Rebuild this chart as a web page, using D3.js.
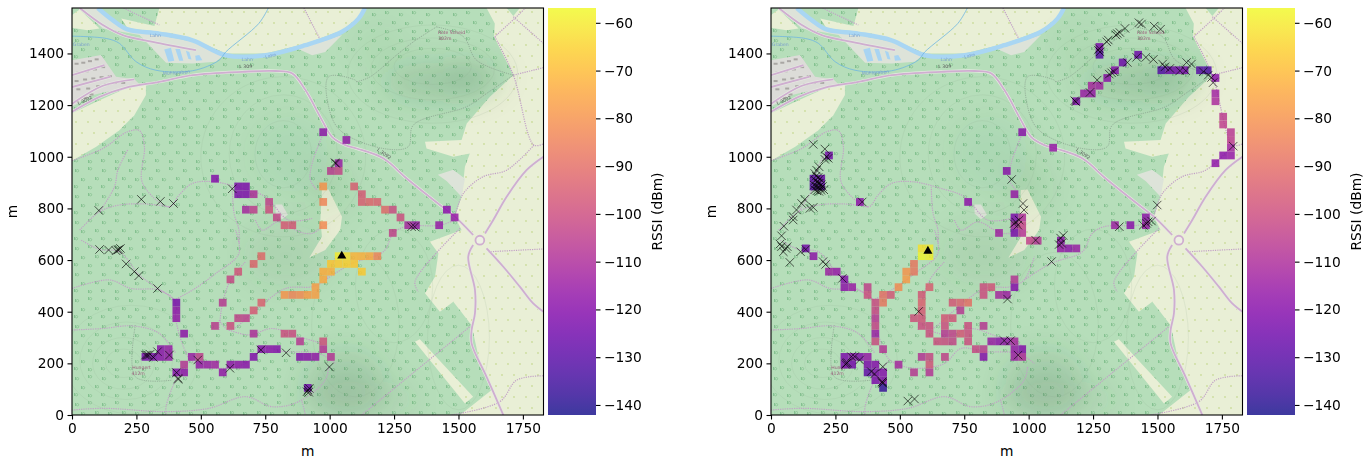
<!DOCTYPE html>
<html>
<head>
<meta charset="utf-8">
<script src="https://cdn.jsdelivr.net/npm/d3@7"></script>
<style>
  html, body { margin: 0; padding: 0; background: #fff; }
  text { font-family: "DejaVu Sans", sans-serif; }
</style>
</head>
<body>
<div id="chart"></div>
<script>
// RSSI per 30 m grid cell: [column, row, dBm]
const cellsLeft = [
  [13,14,-123],[13,13,-118],[13,12,-117],[14,10,-118],[9,7,-123],[10,7,-122],[11,7,-119],[12,7,-117],[11,8,-119],[12,8,-116],
  [13,5,-120],[14,5,-118],[14,6,-108],[15,7,-115],[16,7,-105],[16,6,-116],[17,6,-115],[18,6,-113],[19,5,-117],[20,6,-118],
  [21,6,-118],[22,6,-119],[23,7,-121],[24,8,-120],[25,8,-119],[26,8,-120],[29,7,-120],[30,7,-119],[31,7,-117],[32,8,-108],
  [32,9,-99],[33,7,-108],[29,9,-107],[27,10,-100],[28,10,-101],[23,10,-110],[30,3,-125],[18,11,-106],[20,11,-100],[21,12,-104],
  [22,12,-105],[23,13,-96],[24,14,-94],[19,14,-107],[20,17,-102],[21,18,-98],[23,19,-93],[24,20,-92],[27,15,-80],[28,15,-84],
  [29,15,-82],[30,15,-78],[31,15,-77],[31,16,-77],[32,17,-75],[32,18,-74],[33,18,-73],[33,19,-68],[34,19,-67],[35,19,-66],
  [36,19,-68],[34,20,-60],[35,20,-62],[36,20,-72],[37,20,-73],[38,20,-75],[39,20,-84],[37,18,-67],[27,24,-96],[28,24,-97],
  [26,25,-103],[25,26,-100],[25,27,-104],[22,26,-112],[23,26,-105],[21,28,-122],[22,28,-122],[23,28,-110],[21,29,-122],[22,29,-122],
  [18,30,-120],[32,36,-118],[35,35,-117],[34,32,-115],[33,31,-106],[34,31,-103],[32,29,-80],[32,27,-84],[32,24,-82],[36,29,-95],
  [37,28,-96],[37,27,-95],[38,27,-93],[39,27,-94],[40,26,-92],[41,26,-101],[42,25,-100],[43,24,-112],[44,24,-116],[47,24,-116],
  [48,26,-119],[49,25,-116],[41,23,-104]
];
const cellsRight = [
  [7,33,-124],[5,29,-130],[6,29,-128],[5,30,-128],[6,30,-126],[11,27,-118],[25,27,-118],[32,36,-119],[36,34,-116],[30,31,-119],
  [31,28,-116],[29,23,-113],[31,23,-123],[32,23,-108],[31,24,-113],[32,24,-104],[31,25,-122],[32,25,-110],[33,22,-104],[34,22,-108],
  [37,21,-116],[37,22,-118],[38,21,-118],[39,21,-115],[44,24,-114],[46,24,-119],[48,24,-116],[48,25,-118],[42,46,-130],[42,47,-122],
  [47,46,-125],[50,44,-131],[51,44,-125],[52,44,-124],[53,44,-123],[55,44,-130],[56,44,-132],[57,43,-119],[57,41,-113],[57,40,-111],
  [58,38,-106],[58,37,-105],[59,36,-107],[59,35,-106],[59,34,-113],[58,33,-119],[59,33,-117],[57,32,-118],[45,45,-125],[44,44,-120],
  [43,43,-118],[41,42,-112],[42,42,-113],[40,41,-115],[41,41,-116],[39,40,-121],[19,20,-58],[20,20,-59],[19,21,-62],[20,21,-60],
  [18,18,-88],[18,19,-88],[17,17,-78],[17,18,-80],[16,16,-82],[14,15,-90],[15,15,-97],[14,14,-88],[13,9,-101],[13,10,-115],
  [13,11,-103],[13,12,-107],[13,13,-102],[13,14,-101],[14,8,-108],[12,15,-100],[12,16,-104],[7,18,-114],[8,18,-116],[9,16,-118],
  [9,17,-120],[10,16,-115],[5,20,-118],[4,21,-124],[9,7,-122],[10,7,-120],[11,7,-121],[12,7,-116],[9,6,-122],[10,6,-124],
  [12,6,-122],[13,6,-120],[12,5,-128],[13,5,-122],[13,4,-122],[14,4,-120],[14,5,-120],[14,3,-137],[16,6,-112],[18,5,-107],
  [19,7,-108],[20,7,-102],[20,6,-98],[20,5,-108],[22,7,-104],[20,16,-95],[19,15,-97],[19,14,-94],[19,13,-96],[19,12,-98],
  [19,11,-100],[18,12,-99],[20,11,-100],[20,10,-100],[21,9,-100],[22,9,-101],[22,10,-107],[22,11,-100],[22,12,-97],[23,12,-98],
  [23,9,-103],[23,10,-104],[24,10,-97],[25,9,-100],[25,10,-100],[25,11,-100],[23,14,-97],[24,14,-94],[25,14,-90],[24,13,-107],
  [27,16,-100],[28,16,-98],[27,15,-100],[29,15,-112],[30,15,-114],[31,16,-120],[31,17,-108],[27,11,-107],[28,9,-115],[29,9,-118],
  [30,9,-117],[31,9,-112],[26,8,-102],[27,8,-106],[27,7,-120],[31,7,-114],[32,7,-110],[31,8,-116],[32,8,-120]
];

// failed measurements (x markers), metres
const lostLeft = [
  [107,641],[142,639],[171,636],[178,639],[182,641],[188,645],[210,585],[242,555],[259,539],[332,490],[285,232],[290,232],[296,232],
  [303,235],[316,223],[332,245],[378,232],[406,164],[412,138],[412,142],[488,213],[613,181],[733,252],[831,241],[999,186],
  [921,103],[912,90],[916,97],[919,88],[104,792],[269,835],[343,827],[394,819],[622,876],[1021,977],[1024,974],[1318,729],[1330,729]
];
const lostRight = [
  [50,731],[86,755],[41,694],[35,662],[41,652],[63,652],[48,632],[58,645],[73,591],[115,632],[135,641],[202,594],[212,583],[277,529],
  [573,401],[918,449],[905,288],[930,288],[959,232],[1027,677],[1089,594],[1124,685],[1134,695],[1128,665],[1118,660],
  [293,200],[290,196],[296,203],[312,226],[325,226],[344,213],[389,168],[402,159],[434,187],[432,129],[434,123],[431,126],[531,54],[557,62],
  [164,1048],[209,1030],[215,1000],[222,994],[209,990],[187,961],[177,948],[170,935],[175,925],[183,920],[190,915],[172,908],[180,903],
  [188,898],[195,892],[168,890],[176,886],[184,882],[192,878],[200,885],[170,872],[178,868],[186,866],[194,870],[205,872],[183,897],
  [131,835],[119,819],[99,794],[86,768],[164,804],[151,800],[354,825],[934,912],[978,819],[982,794],[943,741],[963,755],[950,747],[958,735],
  [1428,1519],[1438,1514],[1487,1506],[1512,1494],[1374,1497],[1354,1481],[1344,1477],[1339,1471],[1309,1452],[1303,1445],
  [1274,1419],[1277,1406],[1270,1413],[1183,1213],[1179,1217],[1238,1249],[1266,1297],[1313,1320],[1331,1329],[1322,1325],
  [1383,1365],[1419,1385],[1455,1385],[1484,1377],[1520,1359],[1529,1348],[1548,1342],[1587,1333],[1610,1333],[1613,1365],[1632,1359],
  [1678,1329],[1697,1316],[1710,1307],[1716,1287],[1794,1041],[1499,813],[1352,729],[1458,742],[1477,751],[1445,735],[1464,748]
];
const gatewayLeft = [1047, 616];
const gatewayRight = [609, 635];

const xTicks = [0, 250, 500, 750, 1000, 1250, 1500, 1750];
const yTicks = [0, 200, 400, 600, 800, 1000, 1200, 1400];
const cbarTicks = [-60, -70, -80, -90, -100, -110, -120, -130, -140];
const binSize = 30;
const rssiRange = [-142.1, -56.9];

// base map, everything in metres
const farmland = [
  [[339,1576],[320,1506],[191,1535],[216,1498],[339,1483],[468,1457],[597,1400],[751,1400],[906,1438],[1048,1490],[1112,1540],[1137,1576]],
  [[0,1168],[107,1219],[210,1265],[287,1284],[287,1239],[242,1161],[184,1103],[94,1039],[0,985]],
  [[1609,1576],[1641,1516],[1638,1465],[1713,1316],[1622,1232],[1532,1129],[1512,1065],[1370,1058],[1376,1032],[1480,1000],[1544,1013],[1525,961],[1512,845],[1486,768],[1512,716],[1389,671],[1422,626],[1409,535],[1370,471],[1428,400],[1480,439],[1551,348],[1583,200],[1629,97],[1506,0],[1830,0],[1830,1576]],
  [[1331,284],[1350,293],[1557,71],[1525,45]],
  [[970,871],[996,873],[1048,768],[1041,716],[983,639],[921,609],[970,690],[964,755]],
  [[0,1549],[30,1570],[107,1497],[60,1490],[0,1500]]
];
const forestPatches = [
  [[1687,1576],[1738,1576],[1713,1545]]
];
const greyLand = [
  [[30,1576],[100,1576],[216,1490],[339,1471],[468,1445],[597,1400],[558,1368],[468,1361],[365,1364],[262,1471],[120,1497]],
  [[874,1419],[1048,1471],[983,1406],[932,1393]],
  [[1420,930],[1480,950],[1525,915],[1512,845],[1455,905]],
  [[790,815],[815,815],[838,775],[815,758],[790,780]]
];
const village = [[0,1374],[113,1394],[171,1310],[242,1300],[262,1281],[81,1239],[0,1194]];
const buildings = [
  [10,1364],[36,1368],[62,1374],[88,1381],[17,1329],[49,1335],[81,1342],[113,1351],[10,1297],[43,1303],[75,1307],[107,1312],[139,1316],
  [17,1265],[55,1268],[94,1277],[126,1284],[158,1290],[191,1290],[43,1232],[68,1245],[10,1219]
];
const lakes = [
  [[358,1415],[384,1422],[397,1372],[374,1368]],
  [[401,1417],[419,1417],[432,1372],[416,1372]],
  [[442,1410],[455,1406],[464,1377],[452,1379]],
  [[478,1391],[494,1394],[506,1374],[481,1372]]
];
const river = [[100,1576],[158,1529],[216,1493],[339,1477],[468,1451],[597,1393],[751,1393],[906,1432],[1048,1484],[1112,1535],[1137,1576]];
const stream = [[0,1467],[133,1458],[184,1439],[249,1368],[326,1335],[468,1333],[571,1374],[597,1406],[725,1516],[762,1576]];
const roads = [
  [[0,1174],[107,1232],[210,1268],[339,1290],[468,1316],[661,1329],[790,1332],[854,1323],[906,1258],[970,1142],[1009,1077],[1061,1045],[1105,1032],[1208,994],[1299,916],[1428,813],[1486,768],[1557,697]],
  [[1557,658],[1538,613],[1564,484],[1564,394],[1551,329],[1551,277],[1609,148],[1674,0]],
  [[1603,703],[1635,755],[1687,845],[1764,948],[1830,1000]],
  [[1609,645],[1674,574],[1738,497],[1790,432],[1830,400]],
  [[30,1576],[120,1510],[197,1471],[313,1445],[481,1413]],
  [[0,1316],[126,1355]],[[0,1270],[150,1310]],[[0,1205],[120,1275],[242,1300]]
];
const roundabout = [1583, 677];
const trails = [
  [[0,985],[120,1032],[216,1097],[262,1101],[281,1039],[274,897],[378,806],[416,852],[468,897],[552,903],[661,877],[751,845],[841,755],[932,761]],
  [[30,716],[107,787],[184,813],[287,817],[378,806]],
  [[216,1026],[178,948],[165,884],[107,787]],
  [[970,1077],[932,974],[925,910],[951,871]],
  [[622,884],[629,781],[648,716],[648,665]],
  [[36,677],[107,641],[184,632],[262,542],[332,490],[397,445],[403,368],[435,258],[461,213],[519,187],[584,181],[674,200],[738,258],[829,245],[957,239],[1022,200]],
  [[0,490],[145,523],[229,490],[339,484],[397,445]],
  [[397,445],[468,484],[558,548],[648,626],[635,716]],
  [[571,329],[584,432],[616,523],[674,594]],
  [[571,368],[610,329],[713,406],[829,490],[932,497],[983,523],[1022,613]],
  [[610,329],[687,310],[777,335],[880,303],[970,271],[983,240]],
  [[0,329],[120,335],[236,345],[339,316],[403,239]],
  [[461,213],[410,150],[365,32],[365,0]],
  [[0,19],[120,26],[365,13],[532,26],[674,71],[777,32],[880,52],[983,135],[996,187]],
  [[893,52],[906,0]],
  [[712,755],[738,716],[803,748],[880,710],[932,703],[970,729]],
  [[983,523],[1087,587],[1208,632],[1247,703],[1292,729],[1428,735],[1486,755]],
  [[1641,1465],[1725,1542],[1760,1576]],
  [[1713,1542],[1830,1439]],
  [[1713,1316],[1830,1345]],
  [[1641,1465],[1713,1316],[1793,1045],[1830,1050]],
  [[1793,1045],[1687,948],[1596,923],[1519,858],[1486,768]],
  [[1616,632],[1830,643]],
  [[1506,723],[1331,516],[1344,477]],
  [[1124,0],[1544,342]],
  [[1473,0],[1661,52],[1726,135],[1830,152]],
  [[200,1576],[339,1510]],
  [[900,1576],[960,1460]]
];
const forestTracks = [
  [[1415,1503],[1519,1465],[1570,1374],[1713,1316]],
  [[1105,1290],[1156,1309],[1260,1394],[1325,1445],[1415,1503]],
  [[1713,1316],[1609,1245],[1532,1194],[1325,1123],[1305,1039],[1208,1032],[1040,1103],[996,1194],[996,1310],[1099,1297],[1105,1290]],
  [[246,348],[246,148],[390,135]]
];
const contours = [
  [200,200,70,55],[200,200,120,100],[210,210,180,150],[230,215,260,210],[1400,1350,150,70],[1400,1340,240,120],[1400,1320,330,190],
  [820,1010,110,130],[820,1010,210,230],[820,1000,320,310],[1500,300,120,280],[1100,350,170,280],[1250,500,150,220]
];
const hillShade = [
  [1420,1290,210,75,0.17],[1560,1310,120,55,0.12],[850,1010,150,150,0.05],[830,620,170,120,0.08],[1060,120,150,130,0.15],
  [1110,60,230,70,0.08],[1000,880,100,110,0.06],[1200,1420,100,90,0.04]
];
const mapLabels = [
  ["Lahn",323,1465,0,"#7a9ecb"],["Lahn",680,1372,0,"#7a9ecb"],["Lahn",773,1385,-15,"#7a9ecb"],["Mühlgraben",406,1320,-4,"#7a9ecb"],["Graben",36,1429,0,"#7a9ecb"],
  ["L 309",674,1342,0,"#555"],["L 3092",53,1213,-25,"#555"],["L 3092",1208,1007,35,"#555"],
  ["Rote Scheid",1473,1477,0,"#9a5a7a"],["302m",1447,1454,0,"#9a5a7a"],["Hungert",270,178,0,"#9a5a7a"],["412m",257,155,0,"#9a5a7a"]
];

const W = 1371, H = 459;
const axW = 471.5, axH = 407, axTop = 8;
const color = d3.scaleSequential(d3.interpolatePlasma).domain(rssiRange);
const x = d3.scaleLinear().domain([0, 1830]).range([0, axW]);
const y = d3.scaleLinear().domain([0, 1576]).range([axH, 0]);
const toPath = d3.line().x(d => x(d[0])).y(d => y(d[1]));
const smooth = d3.line().x(d => x(d[0])).y(d => y(d[1])).curve(d3.curveCatmullRom.alpha(0.5));

const svg = d3.select("#chart").append("svg").attr("width", W).attr("height", H).style("display", "block");
const defs = svg.append("defs");

// tree symbols for forest
const treePat = defs.append("pattern").attr("id", "trees").attr("patternUnits", "userSpaceOnUse")
  .attr("width", 27).attr("height", 26);
[[3, 5], [16, 3], [9, 14], [23, 13], [2, 21], [16, 22]].forEach(p => {
  treePat.append("rect").attr("x", p[0]).attr("y", p[1]).attr("width", 0.9).attr("height", 3).attr("fill", "#7fbe8b");
  treePat.append("circle").attr("cx", p[0] + 2.5).attr("cy", p[1] + 1.7).attr("r", 1.2).attr("fill", "none").attr("stroke", "#7fbe8b").attr("stroke-width", 0.7);
});
const farmPat = defs.append("pattern").attr("id", "farm").attr("patternUnits", "userSpaceOnUse")
  .attr("width", 24).attr("height", 22);
[[4, 4], [16, 4], [10, 15], [22, 15]].forEach(p => {
  farmPat.append("circle").attr("cx", p[0]).attr("cy", p[1]).attr("r", 0.9).attr("fill", "#cbdc9c");
});
defs.append("filter").attr("id", "soft").attr("x", "-50%").attr("y", "-50%").attr("width", "200%").attr("height", "200%")
  .append("feGaussianBlur").attr("stdDeviation", 14);
defs.append("clipPath").attr("id", "axclip").append("rect").attr("width", axW).attr("height", axH);

const cbarGrad = defs.append("linearGradient").attr("id", "cbar").attr("x1", 0).attr("x2", 0).attr("y1", 1).attr("y2", 0);
d3.range(0, 1.001, 0.05).forEach(t => {
  cbarGrad.append("stop").attr("offset", t).attr("stop-color", d3.interpolatePlasma(t));
});

function drawMap(g) {
  g.append("rect").attr("width", axW).attr("height", axH).attr("fill", "#b6deba");

  const poly = (data, fill) => g.append("g").selectAll("path").data(data).join("path")
    .attr("d", d => toPath(d) + "Z").attr("fill", fill);

  poly(farmland, "#e9efd6");
  poly(forestPatches, "#b6deba");
  poly(greyLand, "#dde3d9");
  poly([village], "#dcdcd8");
  poly(farmland, "url(#farm)");

  // forest symbols everywhere except the open land (evenodd cut out)
  const open = farmland.concat(greyLand, [village]).map(d => toPath(d) + "Z").join("");
  g.append("path")
    .attr("d", `M0,0H${axW}V${axH}H0Z` + open)
    .attr("fill-rule", "evenodd")
    .attr("fill", "url(#trees)");

  // hill shading
  g.append("g").attr("filter", "url(#soft)").selectAll("ellipse").data(hillShade).join("ellipse")
    .attr("cx", d => x(d[0])).attr("cy", d => y(d[1]))
    .attr("rx", d => x(d[2])).attr("ry", d => axH - y(d[3]))
    .attr("fill", "#2f5d3a").attr("opacity", d => d[4]);

  g.append("g").selectAll("ellipse").data(contours).join("ellipse")
    .attr("cx", d => x(d[0])).attr("cy", d => y(d[1]))
    .attr("rx", d => x(d[2])).attr("ry", d => axH - y(d[3]))
    .attr("fill", "none").attr("stroke", "#8aa88c").attr("stroke-width", 0.4).attr("opacity", 0.35);

  poly(lakes, "#a8d4f2");
  g.append("path").attr("d", smooth(river)).attr("fill", "none").attr("stroke", "#a9d6f3").attr("stroke-width", 4.4);
  g.append("path").attr("d", smooth(stream)).attr("fill", "none").attr("stroke", "#6fb6e0").attr("stroke-width", 0.8);

  g.append("g").selectAll("rect").data(buildings).join("rect")
    .attr("x", d => x(d[0])).attr("y", d => y(d[1]))
    .attr("width", 4).attr("height", 2).attr("fill", "#a9a6a3");

  // trails under roads
  g.append("g").selectAll("path").data(trails).join("path")
    .attr("d", smooth).attr("fill", "none").attr("stroke", "#c2a0c6")
    .attr("stroke-width", 1.2).attr("stroke-dasharray", "1.2 1.1");
  g.append("g").selectAll("path").data(forestTracks).join("path")
    .attr("d", smooth).attr("fill", "none").attr("stroke", "#7f9484")
    .attr("stroke-width", 0.6).attr("stroke-dasharray", "1.2 1");

  g.append("g").selectAll("path").data(roads).join("path")
    .attr("d", smooth).attr("fill", "none").attr("stroke", "#e6e9e2").attr("stroke-width", 3);
  g.append("g").selectAll("path").data(roads).join("path")
    .attr("d", smooth).attr("fill", "none").attr("stroke", "#cfaed0").attr("stroke-width", 1.8);
  g.append("circle").attr("cx", x(roundabout[0])).attr("cy", y(roundabout[1])).attr("r", 4.4)
    .attr("fill", "#eef0e4").attr("stroke", "#cfaed0").attr("stroke-width", 1.8);

  g.append("g").selectAll("text").data(mapLabels).join("text")
    .attr("transform", d => `translate(${x(d[1])},${y(d[2])}) rotate(${d[3]})`)
    .attr("text-anchor", "middle").attr("font-size", 4.6).attr("fill", d => d[4]).text(d => d[0]);
}

function drawPanel(left, cells, lost, gateway, cbarLeft) {
  const g = svg.append("g").attr("transform", `translate(${left},${axTop})`);
  const plot = g.append("g").attr("clip-path", "url(#axclip)");
  drawMap(plot);

  plot.append("g").selectAll("rect").data(cells).join("rect")
    .attr("x", d => x(d[0] * binSize))
    .attr("y", d => y((d[1] + 1) * binSize))
    .attr("width", x(binSize) - x(0))
    .attr("height", y(0) - y(binSize))
    .attr("fill", d => color(d[2]))
    .attr("opacity", 0.8);

  const cross = d3.symbol().type(d3.symbolX).size(48);
  plot.append("g").selectAll("path").data(lost).join("path")
    .attr("transform", d => `translate(${x(d[0])},${y(d[1])})`)
    .attr("d", cross)
    .attr("fill", "none").attr("stroke", "#000").attr("stroke-width", 0.75).attr("stroke-opacity", 0.85);

  plot.append("path")
    .attr("transform", `translate(${x(gateway[0])},${y(gateway[1])})`)
    .attr("d", d3.symbol().type(d3.symbolTriangle).size(36))
    .attr("fill", "#000");

  // spines and axes
  g.append("rect").attr("width", axW).attr("height", axH).attr("fill", "none").attr("stroke", "#000").attr("stroke-width", 1.1);

  const xAxis = g.append("g").attr("transform", `translate(0,${axH})`)
    .call(d3.axisBottom(x).tickValues(xTicks).tickFormat(d3.format("d")).tickSize(4.5).tickPadding(3.5));
  const yAxis = g.append("g")
    .call(d3.axisLeft(y).tickValues(yTicks).tickFormat(d3.format("d")).tickSize(4.5).tickPadding(3.5));
  [xAxis, yAxis].forEach(a => {
    a.select(".domain").remove();
    a.selectAll(".tick line").attr("stroke", "#000").attr("stroke-width", 1.1);
    a.selectAll(".tick text").attr("font-family", "DejaVu Sans").attr("font-size", 13.8).attr("fill", "#000");
  });

  g.append("text").attr("x", axW / 2).attr("y", 456 - axTop).attr("text-anchor", "middle")
    .attr("font-size", 13.8).attr("fill", "#000").text("m");
  g.append("text").attr("transform", `translate(-55,${axH / 2}) rotate(-90)`).attr("text-anchor", "middle")
    .attr("font-size", 13.8).attr("fill", "#000").text("m");

  // colorbar
  const cw = 48;
  const cy = d3.scaleLinear().domain(rssiRange).range([axH, 0]);
  const cb = svg.append("g").attr("transform", `translate(${cbarLeft},${axTop})`);
  cb.append("rect").attr("width", cw).attr("height", axH).attr("fill", "url(#cbar)").attr("opacity", 0.8);
  const cAxis = cb.append("g").attr("transform", `translate(${cw},0)`)
    .call(d3.axisRight(cy).tickValues(cbarTicks).tickFormat(d => "\u2212" + Math.abs(d)).tickSize(4.5).tickPadding(3.5));
  cAxis.select(".domain").remove();
  cAxis.selectAll(".tick line").attr("stroke", "#000").attr("stroke-width", 1.1);
  cAxis.selectAll(".tick text").attr("font-family", "DejaVu Sans").attr("font-size", 13.8).attr("fill", "#000");
  cb.append("text").attr("transform", `translate(${cw + 66},${axH / 2}) rotate(-90)`).attr("text-anchor", "middle")
    .attr("font-size", 13.8).attr("fill", "#000").text("RSSI (dBm)");
}

drawPanel(72, cellsLeft, lostLeft, gatewayLeft, 548);
drawPanel(771, cellsRight, lostRight, gatewayRight, 1247);
</script>
</body>
</html>
